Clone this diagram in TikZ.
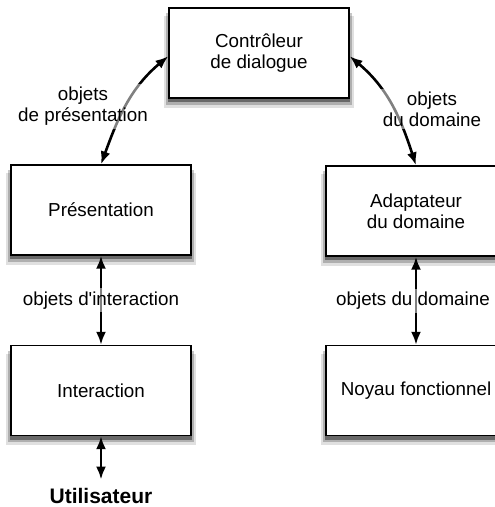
\documentclass[tikz,border=0pt]{standalone}
\usepackage{fontspec}
\setmainfont{Liberation Sans}
\usetikzlibrary{arrows.meta,backgrounds}
\tikzset{
  boite/.style={draw, line width=1.3pt, fill=white, minimum width=180pt, minimum height=90pt, align=center},
  ombre/.style={fill=black, opacity=#1},
  lien/.style={{Latex[length=13pt,width=10pt]}-{Latex[length=13pt,width=10pt]}, line width=2.6pt},
  etiq/.style={fill=white, fill opacity=.5, text opacity=1, align=center, inner sep=3pt}
}
\begin{document}
\begin{tikzpicture}[x=1pt,y=-1pt,font=\fontsize{18.8}{21}\selectfont]
\useasboundingbox (0,0) rectangle (495,507);

\node[boite] (ctrl) at (259,53) {Contrôleur\\de dialogue};
\foreach \n/\x/\y/\t in {pres/101/210/Présentation, inter/101/390.5/Interaction,
    adapt/416/211/Adaptateur\\du domaine, noyau/416/390.5/Noyau fonctionnel} {
    \node[boite] (\n) at (\x,\y) {\t};
}
\node[font=\bfseries\fontsize{21}{24}\selectfont, inner sep=8pt] (user) at (101,495.5) {Utilisateur};

\begin{scope}[on background layer]
\foreach \n in {ctrl,pres,inter,adapt,noyau} {
    \foreach \d/\s/\o in {4/9/.12, 2/6/.22, 0.5/3.5/.4} {
        \fill[ombre=\o] ([xshift=-\d pt,yshift=-\s pt]\n.north west) rectangle ([xshift=\d pt,yshift=-\s pt]\n.south east);
    }
}
\end{scope}

\draw[lien] (pres.north) to[out=70,in=220] (ctrl.182);
\draw[lien] (ctrl.-2) to[out=-40,in=108] (adapt.north);
\draw[lien] (pres) -- node[etiq] (linter) {objets d\textquotesingle interaction} (inter);
\draw[lien] (adapt) -- node[etiq, xshift=-3pt] (lnoyau) {objets du domaine} (noyau);
\draw[lien] (inter) -- (user);

\node[etiq] (lpres) at (83,106.5) {objets\\de présentation};
\node[etiq] (ladapt) at (432,109) {objets\\du domaine};
\end{tikzpicture}
\end{document}
